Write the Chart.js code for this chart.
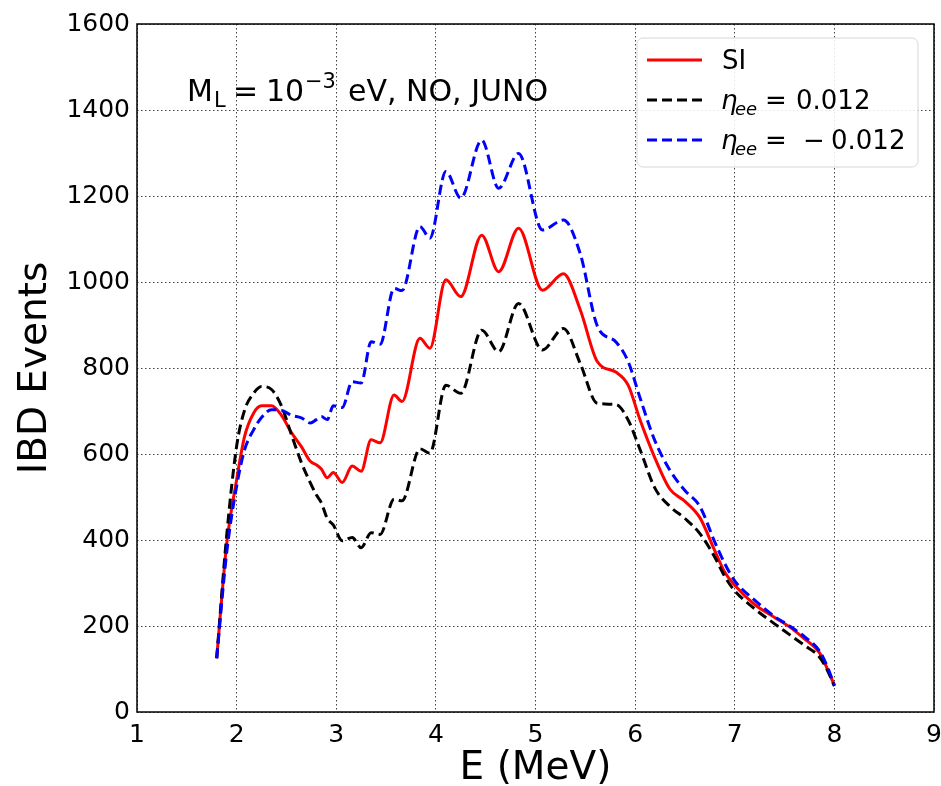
<!DOCTYPE html>
<html>
<head>
<meta charset="utf-8">
<script src="https://cdn.jsdelivr.net/npm/chart.js@4.4.0/dist/chart.umd.min.js"></script>
<style>
  html, body { margin: 0; padding: 0; background: #fff; }
  #wrap { width: 941px; height: 786px; }
</style>
</head>
<body>
<div id="wrap"><canvas id="chart" width="941" height="786"></canvas></div>
<script>
// energy grid (MeV) and event counts
const energy = [1.80, 1.90, 2.00, 2.08, 2.17, 2.25, 2.35, 2.45, 2.55, 2.65, 2.74, 2.80, 2.85, 2.91, 2.97,
  3.06, 3.16, 3.25, 3.35, 3.44, 3.58, 3.66, 3.84, 3.94, 4.10, 4.25, 4.46, 4.63, 4.83, 5.07, 5.28, 5.45,
  5.62, 5.81, 5.93, 6.05, 6.20, 6.35, 6.50, 6.65, 6.80, 6.90, 7.00, 7.20, 7.40, 7.55, 7.70, 7.85, 7.93, 8.00];

const eventsSI = [125, 390, 540, 641, 695, 712, 712, 690, 650, 617, 583, 575, 565, 545, 557,
  534, 572, 560, 633, 626, 737, 722, 869, 846, 1005, 966, 1109, 1024, 1125, 981, 1019, 935,
  815, 790, 760, 679, 590, 518, 490, 452, 375, 325, 295, 250, 220, 198, 170, 138, 100, 62];

const eventsPos = [125, 410, 618, 702, 741, 757, 750, 712, 645, 580, 533, 505, 487, 450, 435,
  398, 406, 382, 417, 413, 495, 491, 612, 602, 760, 741, 888, 838, 950, 842, 892, 810,
  718, 715, 679, 610, 520, 478, 450, 415, 360, 315, 282, 240, 205, 180, 155, 128, 97, 60];

const eventsNeg = [125, 370, 525, 610, 656, 685, 703, 702, 690, 684, 672, 680, 687, 680, 712,
  708, 768, 765, 861, 855, 985, 980, 1129, 1102, 1257, 1195, 1330, 1218, 1299, 1121, 1144, 1065,
  898, 860, 815, 730, 630, 562, 515, 478, 395, 345, 305, 260, 222, 200, 175, 142, 105, 62];

const FONT = '"DejaVu Sans", sans-serif';
const DASH = [10, 5];

function toPoints(ys) {
  return energy.map((e, i) => ({ x: e, y: ys[i] }));
}

// draws a row of text pieces (for sub/superscripts)
function drawRuns(ctx, runs, y) {
  runs.forEach(r => {
    ctx.font = (r.italic ? 'italic ' : '') + r.size + 'px ' + FONT;
    ctx.fillText(r.text, r.x, y + (r.dy || 0));
  });
}

const boxPlugin = {
  id: 'box',
  afterDatasetsDraw(chart) {
    const { ctx, chartArea: a } = chart;
    ctx.save();
    ctx.strokeStyle = '#000';
    ctx.lineWidth = 1.5;
    ctx.strokeRect(a.left, a.top, a.right - a.left, a.bottom - a.top);
    ctx.restore();
  }
};

const textPlugin = {
  id: 'texts',
  afterDraw(chart) {
    const ctx = chart.ctx;
    ctx.save();
    ctx.fillStyle = '#000';
    ctx.textBaseline = 'alphabetic';
    ctx.textAlign = 'left';

    // annotation
    drawRuns(ctx, [
      { text: 'M', x: 187, size: 30 },
      { text: 'L', x: 214, size: 21, dy: 6 },
      { text: '=', x: 233, size: 30 },
      { text: '10', x: 266, size: 30 },
      { text: '\u22123', x: 305, size: 21, dy: -13 },
      { text: 'eV, NO, JUNO', x: 348, size: 30 }
    ], 101);

    // legend frame
    const lx = 637, ly = 38, lw = 281, lh = 129, r = 6;
    ctx.beginPath();
    ctx.moveTo(lx + r, ly);
    ctx.arcTo(lx + lw, ly, lx + lw, ly + lh, r);
    ctx.arcTo(lx + lw, ly + lh, lx, ly + lh, r);
    ctx.arcTo(lx, ly + lh, lx, ly, r);
    ctx.arcTo(lx, ly, lx + lw, ly, r);
    ctx.closePath();
    ctx.fillStyle = 'rgba(255,255,255,0.85)';
    ctx.fill();
    ctx.strokeStyle = '#d6d6d6';
    ctx.lineWidth = 1;
    ctx.stroke();

    const rows = [
      { y: 60, color: '#ff0000', dash: [] },
      { y: 100, color: '#000000', dash: DASH },
      { y: 140, color: '#0000ff', dash: DASH }
    ];
    rows.forEach(row => {
      ctx.beginPath();
      ctx.setLineDash(row.dash);
      ctx.strokeStyle = row.color;
      ctx.lineWidth = 3;
      ctx.moveTo(647, row.y);
      ctx.lineTo(702, row.y);
      ctx.stroke();
    });
    ctx.setLineDash([]);
    ctx.fillStyle = '#000';

    drawRuns(ctx, [{ text: 'SI', x: 722, size: 26 }], 69);
    drawRuns(ctx, [
      { text: '\u03b7', x: 721, size: 26, italic: true },
      { text: 'ee', x: 735, size: 18, italic: true, dy: 6 },
      { text: '=', x: 765, size: 26 },
      { text: '0.012', x: 796, size: 26 }
    ], 109);
    drawRuns(ctx, [
      { text: '\u03b7', x: 721, size: 26, italic: true },
      { text: 'ee', x: 735, size: 18, italic: true, dy: 6 },
      { text: '=', x: 765, size: 26 },
      { text: '\u2212', x: 803, size: 26 },
      { text: '0.012', x: 831, size: 26 }
    ], 149);
    ctx.restore();
  }
};

new Chart(document.getElementById('chart').getContext('2d'), {
  type: 'line',
  data: {
    datasets: [
      {
        label: 'SI',
        data: toPoints(eventsSI),
        borderColor: '#ff0000',
        borderWidth: 3,
        pointRadius: 0,
        cubicInterpolationMode: 'monotone',
        order: 3
      },
      {
        label: '\u03b7ee = 0.012',
        data: toPoints(eventsPos),
        borderColor: '#000000',
        borderWidth: 3,
        borderDash: DASH,
        pointRadius: 0,
        cubicInterpolationMode: 'monotone',
        order: 2
      },
      {
        label: '\u03b7ee = -0.012',
        data: toPoints(eventsNeg),
        borderColor: '#0000ff',
        borderWidth: 3,
        borderDash: DASH,
        pointRadius: 0,
        cubicInterpolationMode: 'monotone',
        order: 1
      }
    ]
  },
  options: {
    responsive: false,
    animation: false,
    layout: { padding: { top: 24, right: 7, left: 0, bottom: 0 } },
    plugins: { legend: { display: false }, tooltip: { enabled: false } },
    scales: {
      x: {
        type: 'linear',
        min: 1,
        max: 9,
        ticks: { stepSize: 1, color: '#000', padding: 8, font: { family: FONT, size: 25 },
          callback: v => String(v) },
        grid: { color: '#444', lineWidth: 1, drawTicks: false },
        border: { display: false, dash: [1.5, 2.5] },
        title: { display: true, text: 'E (MeV)', color: '#000', font: { family: FONT, size: 39, lineHeight: 0.9 }, padding: { top: 0, bottom: 0 } },
        afterFit(scale) { scale.height = 74; scale.paddingRight = 0; scale.paddingLeft = 0; }
      },
      y: {
        min: 0,
        max: 1600,
        ticks: { stepSize: 200, color: '#000', padding: 7, font: { family: FONT, size: 25 },
          callback: v => String(v) },
        grid: { color: '#444', lineWidth: 1, drawTicks: false },
        border: { display: false, dash: [1.5, 2.5] },
        title: { display: true, text: 'IBD Events', color: '#000', font: { family: FONT, size: 39 }, padding: { top: 12.5, bottom: 0 } },
        afterFit(scale) { scale.width = 137; }
      }
    }
  },
  plugins: [boxPlugin, textPlugin]
});
</script>
</body>
</html>
